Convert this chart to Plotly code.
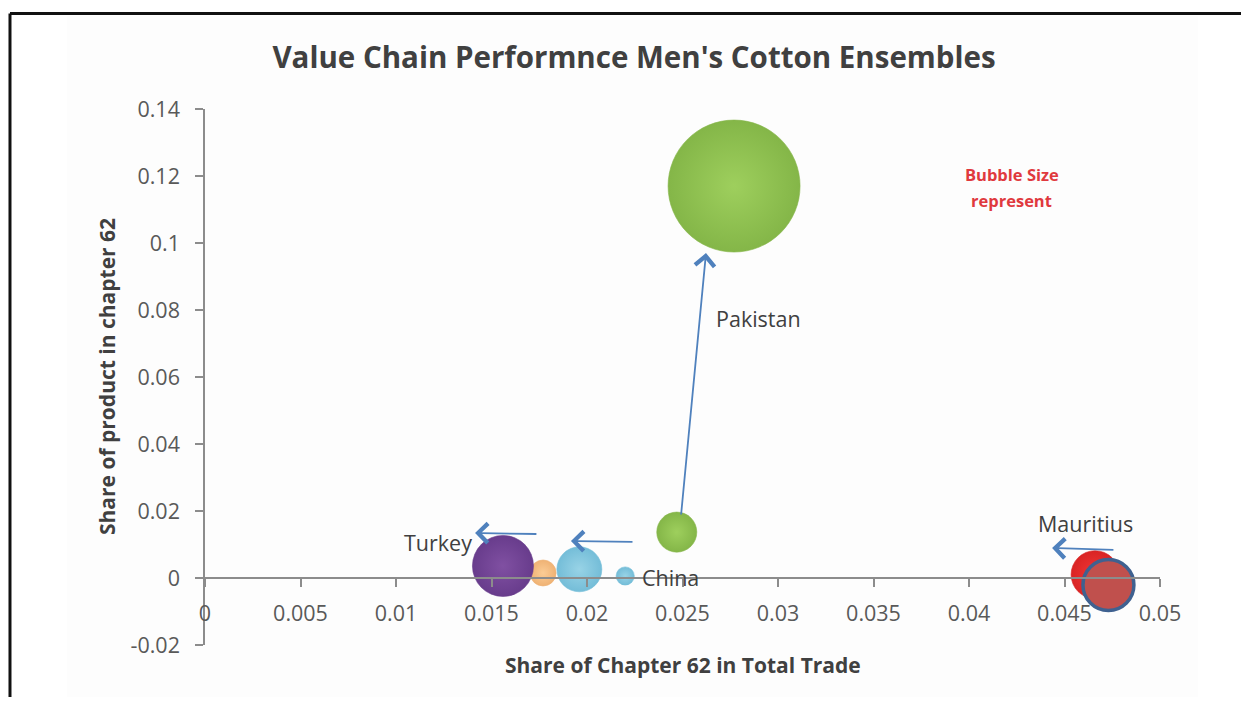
import plotly.graph_objects as go

# ---------------- data ----------------
countries = ["Turkey", "China", "Pakistan", "Mauritius"]

# bubble positions before (start) and after (end) the move
x_start = [0.0177, 0.0220, 0.0247, 0.0473]
y_start = [0.0015, 0.0006, 0.0137, -0.0021]
size_start = [3.9, 1.9, 9.2, 14.9]

x_end = [0.0156, 0.0196, 0.0277, 0.0466]
y_end = [0.0036, 0.0026, 0.1170, 0.0010]
size_end = [21.4, 11.6, 100.0, 13.2]

# arrows indicating direction of movement (tail -> head)
arrow_x0 = [0.01743, 0.02246, 0.02492, 0.04764]
arrow_y0 = [0.01313, 0.01075, 0.01851, 0.00836]
arrow_x1 = [0.01414, 0.01916, 0.02623, 0.04435]
arrow_y1 = [0.01343, 0.01104, 0.09700, 0.00896]

# country labels
label_x = [0.0122, 0.02435, 0.0290, 0.0461]
label_y = [0.0107, 0.0003, 0.0776, 0.0164]

x_ticks = [0, 0.005, 0.01, 0.015, 0.02, 0.025, 0.03, 0.035, 0.04, 0.045, 0.05]
x_ticklabels = ["0", "0.005", "0.01", "0.015", "0.02", "0.025", "0.03", "0.035", "0.04", "0.045", "0.05"]
y_ticks = [-0.02, 0, 0.02, 0.04, 0.06, 0.08, 0.1, 0.12, 0.14]
y_ticklabels = ["-0.02", "0", "0.02", "0.04", "0.06", "0.08", "0.1", "0.12", "0.14"]

# ---------------- styles ----------------
# (fill = rim colour, gradient = lighter centre colour)
start_rim = {"Turkey": "#EFB274", "China": "#74BDD8", "Pakistan": "#84B648", "Mauritius": "#C0504D"}
start_mid = {"Turkey": "#FBCC95", "China": "#98D3E6", "Pakistan": "#9ECF5D", "Mauritius": "#C0504D"}
end_rim = {"Turkey": "#683C8C", "China": "#74BDD8", "Pakistan": "#84B648", "Mauritius": "#D92424"}
end_mid = {"Turkey": "#8050A2", "China": "#98D3E6", "Pakistan": "#9ECF5D", "Mauritius": "#F33737"}

FONT = "Open Sans"
TXT = "#404040"

# drawing order of bubbles (later ones on top)
order = [("Pakistan", "end"), ("Pakistan", "start"), ("Turkey", "start"), ("Turkey", "end"),
         ("China", "start"), ("China", "end"), ("Mauritius", "end"), ("Mauritius", "start")]

bx, by, bs, bc, bg, blw, blc = [], [], [], [], [], [], []
for name, which in order:
    i = countries.index(name)
    if which == "start":
        bx.append(x_start[i]); by.append(y_start[i]); bs.append(size_start[i])
        bc.append(start_rim[name]); bg.append(start_mid[name])
    else:
        bx.append(x_end[i]); by.append(y_end[i]); bs.append(size_end[i])
        bc.append(end_rim[name]); bg.append(end_mid[name])
    if name == "Mauritius" and which == "start":
        blw.append(3.5); blc.append("#3F6190")
    else:
        blw.append(0.6); blc.append(bc[-1])

max_radius_px = 66
sizeref = max(bs) / (2 * max_radius_px ** 2)

fig = go.Figure()
fig.add_trace(go.Scatter(
    x=bx, y=by, mode="markers", showlegend=False, hoverinfo="skip",
    marker=dict(size=bs, sizemode="area", sizeref=sizeref, color=bc, opacity=1,
                gradient=dict(type="radial", color=bg),
                line=dict(width=blw, color=blc)),
))

annotations = []
for i in range(len(countries)):
    annotations.append(dict(
        x=arrow_x1[i], y=arrow_y1[i], ax=arrow_x0[i], ay=arrow_y0[i],
        xref="x", yref="y", axref="x", ayref="y", text="", showarrow=True,
        arrowhead=4, arrowsize=2.1, arrowwidth=1.8, arrowcolor="#4F81BD", standoff=0,
    ))
for i, name in enumerate(countries):
    annotations.append(dict(
        x=label_x[i], y=label_y[i], xref="x", yref="y", text=name, showarrow=False,
        xanchor="center", yanchor="middle",
        font=dict(family=FONT, size=21.5, color=TXT),
    ))

# axis titles
annotations.append(dict(x=0.5, y=-0.0373, xref="paper", yref="paper",
                        xanchor="center", yanchor="middle",
                        text="<b>Share of Chapter 62 in Total Trade</b>", showarrow=False,
                        font=dict(family=FONT, size=21, color=TXT)))
annotations.append(dict(x=-0.1026, y=0.5, xref="paper", yref="paper", textangle=-90,
                        xanchor="center", yanchor="middle",
                        text="<b>Share of product in chapter 62</b>", showarrow=False,
                        font=dict(family=FONT, size=21, color=TXT)))
# note
annotations.append(dict(x=0.845, y=0.8769, xref="paper", yref="paper",
                        xanchor="center", yanchor="middle",
                        text="<b>Bubble Size</b>", showarrow=False,
                        font=dict(family=FONT, size=16.5, color="#E0393E")))
annotations.append(dict(x=0.845, y=0.8302, xref="paper", yref="paper",
                        xanchor="center", yanchor="middle",
                        text="<b>represent</b>", showarrow=False,
                        font=dict(family=FONT, size=16.5, color="#E0393E")))

shapes = [
    # light chart-area background
    dict(type="rect", xref="paper", yref="paper", x0=-0.1445, x1=1.0398, y0=-0.12, y1=1.1735,
         fillcolor="#FDFDFD", line=dict(width=0), layer="below"),
    # frame lines (top and left)
    dict(type="line", xref="paper", yref="paper", x0=-0.2042, x1=1.2, y0=1.1782, y1=1.1782,
         line=dict(color="#111111", width=3)),
    dict(type="line", xref="paper", yref="paper", x0=-0.2042, x1=-0.2042, y0=1.1782, y1=-0.15,
         line=dict(color="#111111", width=3)),
]

# page has an 8px body margin: figure sized so it fits without scrolling
W, H = 1233, 689
fig.update_layout(
    width=W, height=H,
    margin=dict(l=197, r=81, t=101, b=52, pad=0),
    paper_bgcolor="white", plot_bgcolor="rgba(0,0,0,0)",
    title=dict(text="<b>Value Chain Performnce Men's Cotton Ensembles</b>",
               x=626 / W, xref="container", y=1 - 50 / H, yref="container",
               xanchor="center", yanchor="middle",
               font=dict(family=FONT, size=29.5, color=TXT)),
    xaxis=dict(range=[0, 0.05], tickvals=x_ticks, ticktext=x_ticklabels,
               showgrid=False, zeroline=False, showline=True, linecolor="#8C8C8C", linewidth=1.5,
               ticks="outside", ticklen=8, tickwidth=1.5, tickcolor="#8C8C8C",
               anchor="free", position=0.125, ticklabelstandoff=8,
               tickfont=dict(family=FONT, size=21.5, color="#595959")),
    yaxis=dict(range=[-0.02, 0.14], tickvals=y_ticks, ticktext=y_ticklabels,
               showgrid=False, zeroline=False, showline=True, linecolor="#8C8C8C", linewidth=1.5,
               ticks="outside", ticklen=8, tickwidth=1.5, tickcolor="#8C8C8C",
               ticklabelstandoff=11,
               tickfont=dict(family=FONT, size=21.5, color="#595959")),
    annotations=annotations, shapes=shapes,
)

fig.write_html("out.html")
